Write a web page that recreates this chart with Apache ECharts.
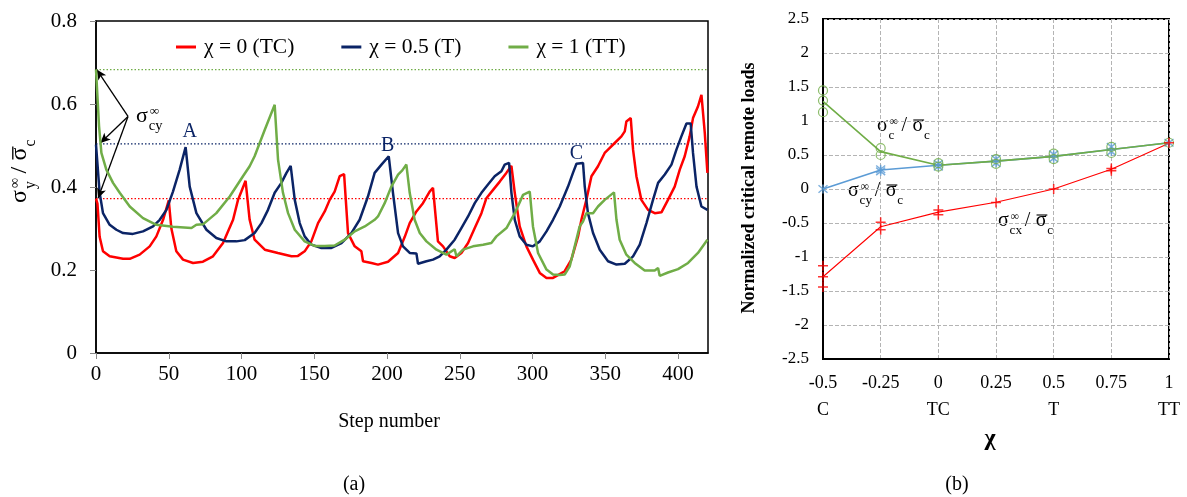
<!DOCTYPE html>
<html>
<head>
<meta charset="utf-8">
<script src="https://cdn.jsdelivr.net/npm/echarts@6/dist/echarts.min.js"></script>
<style>html,body{margin:0;padding:0;background:#fff;}#c{width:1187px;height:497px;}</style>
</head>
<body>
<div id="c"></div>
<script>
// ---------- (a) data: step number vs sigma_y / sigma_c ----------
const redSteps = [0,1,2.5,4.8,9.4,18.6,23.2,30,36.9,41.5,46.1,50,51.8,55.2,59.8,66.7,73.5,80.4,87.3,94.2,97.6,99.9,102.8,105.6,109,116,125,134.3,138.8,143.4,148,152.6,157.2,160.6,164,167.5,170.5,173.2,177.8,182.4,183.5,189.3,193.8,200.7,207.6,212.2,215.6,220.2,224.7,229.3,231.6,235,238.5,243.1,246.5,251.1,255.7,260.3,264.9,268.3,272.9,277.5,282,285.5,287.8,291.2,295.8,300.3,305,309.6,314.1,318.7,322.1,326.7,331.3,333.6,337,340.5,345,349.6,351.9,356.5,361.1,363.4,364.5,367.5,369.1,371.4,374.8,379.4,384,388.6,393.1,397.7,401.2,404.6,408,410.3,413.7,416.1,418.4,420.2];
const redVals = [0.372,0.36,0.28,0.245,0.233,0.227,0.227,0.237,0.257,0.281,0.321,0.368,0.30,0.245,0.225,0.217,0.22,0.233,0.265,0.321,0.369,0.389,0.415,0.321,0.273,0.249,0.241,0.233,0.234,0.245,0.269,0.313,0.341,0.369,0.389,0.426,0.431,0.289,0.257,0.245,0.221,0.217,0.213,0.22,0.241,0.28,0.313,0.341,0.361,0.389,0.398,0.269,0.257,0.233,0.229,0.241,0.265,0.301,0.337,0.373,0.393,0.413,0.434,0.451,0.386,0.305,0.257,0.225,0.193,0.181,0.181,0.19,0.197,0.225,0.281,0.321,0.369,0.426,0.45,0.482,0.49,0.506,0.522,0.534,0.558,0.566,0.49,0.426,0.369,0.345,0.337,0.339,0.369,0.401,0.442,0.474,0.522,0.566,0.594,0.622,0.53,0.434];

const blueSteps = [0,0.7,2.5,4.8,9.4,14,18.6,25.4,32.3,39.2,43.8,48.4,52.9,57.5,61.6,64.4,69,75.9,82.7,89.6,96.5,102.2,109,113.7,118.2,122.8,127.4,130.9,133.8,136.6,140,143.4,148,154.9,161.8,168.7,175.5,181.2,186.9,191.5,196.2,201.2,204.1,207.6,211,215.6,220.2,221.3,227.1,231.6,236.2,240.8,246.5,251.1,255.7,260.3,264.9,269.4,274,278.6,280.9,283.9,285.5,287.8,291.2,295.8,300.3,305,309.6,314.1,318.7,324.4,327.8,330.2,334.7,335.9,338.1,341.6,346.2,351.9,357.7,363.4,369.1,373.7,378.3,382.8,386.3,390.9,395.5,398.9,402.3,405.8,408.7,410.3,412.7,416.1,420.2];
const blueVals = [0.502,0.502,0.386,0.337,0.309,0.297,0.289,0.287,0.293,0.305,0.321,0.345,0.389,0.442,0.496,0.401,0.337,0.297,0.277,0.269,0.269,0.272,0.289,0.313,0.345,0.386,0.41,0.434,0.451,0.369,0.313,0.281,0.261,0.253,0.253,0.265,0.289,0.321,0.377,0.434,0.454,0.474,0.386,0.289,0.257,0.241,0.24,0.215,0.221,0.225,0.233,0.249,0.273,0.301,0.329,0.361,0.386,0.406,0.426,0.438,0.454,0.458,0.386,0.321,0.281,0.261,0.257,0.269,0.293,0.321,0.353,0.401,0.434,0.456,0.458,0.401,0.337,0.289,0.249,0.221,0.213,0.215,0.233,0.261,0.313,0.369,0.41,0.43,0.454,0.49,0.522,0.553,0.553,0.482,0.401,0.353,0.345];

const greenSteps = [0,0.7,2.1,3.7,7.1,11.7,16.3,23.2,32.3,41.5,52.9,65.6,69,73.5,82.7,91.9,101,105.6,109,116,122.8,125.1,128.5,132,136.6,143.4,150.3,157.2,164,170.9,177.8,184.7,191.5,193.8,198.4,203,207.6,210.5,213.3,215.6,219,222.5,227.1,234,240.8,246.5,247.7,252.2,259.1,266,271.7,275.2,282.1,287.8,293.5,298.1,300.3,303.8,309.6,314.1,318.7,322.1,325.6,329,332.4,334.7,337,341.6,345,349.6,356,357.7,359.9,364.5,370.2,377.1,384,386.3,387.4,393.1,400,406.9,413.7,420.2];
const greenVals = [0.683,0.683,0.546,0.482,0.442,0.41,0.386,0.353,0.325,0.309,0.304,0.301,0.309,0.31,0.337,0.377,0.426,0.45,0.474,0.538,0.598,0.466,0.386,0.337,0.297,0.269,0.258,0.258,0.259,0.273,0.293,0.305,0.321,0.329,0.361,0.401,0.43,0.44,0.454,0.386,0.321,0.289,0.269,0.249,0.237,0.25,0.233,0.249,0.257,0.261,0.265,0.281,0.301,0.337,0.381,0.389,0.305,0.241,0.201,0.189,0.188,0.189,0.209,0.257,0.305,0.317,0.337,0.337,0.353,0.369,0.387,0.321,0.273,0.237,0.217,0.199,0.199,0.205,0.186,0.194,0.202,0.217,0.241,0.273];

const seriesNames = ['χ = 0 (TC)', 'χ = 0.5 (T)', 'χ = 1 (TT)'];
const criticalLevels = [0.372, 0.504, 0.683];   // red, blue, green dotted lines
const stepRange = [0, 420.6];
const stepTicks = [0,50,100,150,200,250,300,350,400];
const peakLabels = ['A','B','C'];
const peakSteps = [64.4, 200.5, 330.1];
const peakVals = [0.533, 0.5, 0.48];
const arrowFrom = [22, 0.57];
const arrowTo = [[0.5, 0.683],[3, 0.506],[1.4, 0.373]];

// ---------- (b) data: chi vs normalized critical remote loads ----------
const chiValues = [-0.5,-0.25,0,0.25,0.5,0.75,1];
const chiNames = ['C','','TC','','T','','TT'];
const ratioC  = [1.29,0.55,0.35,0.41,0.48,0.58,0.68];
const ratioCy = [0,0.28,0.35,0.41,0.48,0.58,0.68];
const ratioCx = [-1.29,-0.555,-0.34,-0.196,0,0.29,0.673];
const marksC  = [[-0.5,1.45],[-0.5,1.3],[-0.5,1.13],[-0.25,0.6],[-0.25,0.5],[0,0.33],[0,0.38],[0.25,0.37],[0.25,0.44],[0.5,0.44],[0.5,0.52],[0.75,0.53],[0.75,0.62],[1,0.68]];
const marksCy = [[-0.5,0],[-0.25,0.26],[-0.25,0.29],[0,0.33],[0,0.37],[0.25,0.38],[0.25,0.44],[0.5,0.45],[0.5,0.51],[0.75,0.55],[0.75,0.62],[1,0.68]];
const marksCx = [[-0.5,-1.13],[-0.5,-1.29],[-0.5,-1.44],[-0.25,-0.49],[-0.25,-0.6],[0,-0.31],[0,-0.38],[0.25,-0.2],[0.5,0],[0.75,0.27],[0.75,0.3],[1,0.68]];

// ---------- build ----------
const FONT = 'Liberation Serif';
const RED = '#FF0000', NAVY = '#0B2466', GREEN = '#70AD47', LBLUE = '#5B9BD5';
const zip = (a, b) => a.map((v, i) => [v, b[i]]);

function ratioLabel(x, y, F, sub, rot, withDen) {
  const w = 0.58 * F, sf = 0.66 * F;
  const subW = sub.length * 0.46 * sf, infW = 0.75 * sf;
  const afterSub = w + Math.max(subW, infW) + 0.15 * F;
  const s2 = afterSub + 0.3 * F + 0.25 * F;
  const st = (t, s) => ({text: t, fontFamily: FONT, fontSize: s, fill: '#000', verticalAlign: 'bottom'});
  const ch = [
    {type: 'text', x: 0, y: 0, style: st('σ', F)},
    {type: 'text', x: w, y: 0.3 * F, style: st(sub, sf)},
    {type: 'text', x: w + 0.04 * F, y: -0.42 * F, style: st('∞', 0.6 * F)}
  ];
  if (withDen) {
    ch.push({type: 'text', x: afterSub, y: 0, style: st('/', F)});
    ch.push({type: 'text', x: s2, y: 0, style: st('σ', F)});
    ch.push({type: 'line', shape: {x1: s2 + 0.04 * F, y1: -0.8 * F, x2: s2 + w, y2: -0.8 * F}, style: {stroke: '#000', lineWidth: Math.max(1, F / 18)}});
    ch.push({type: 'text', x: s2 + w, y: 0.3 * F, style: st('c', sf)});
  }
  return {type: 'group', x: x, y: y, rotation: rot || 0, silent: true, children: ch};
}

const chart = echarts.init(document.getElementById('c'), null, {renderer: 'canvas'});

const levelColors = [RED, NAVY, GREEN];
const levelSeries = criticalLevels.map((v, i) => ({
  type: 'line', xAxisIndex: 0, yAxisIndex: 0, silent: true, symbol: 'none', z: 1,
  data: stepRange.map(s => [s, v]),
  lineStyle: {color: levelColors[i], type: [1.5, 2], width: 1.2}
}));

const option = {
  animation: false,
  backgroundColor: '#fff',
  textStyle: {fontFamily: FONT},
  grid: [
    {left: 96, top: 21, width: 612, height: 332, show: true, borderColor: '#000', borderWidth: 1.5},
    {left: 823, top: 19, width: 346, height: 340, show: true, borderColor: '#000', borderWidth: 2}
  ],
  legend: {
    data: seriesNames, left: 176, top: 36, padding: 0, icon: 'rect', itemWidth: 20, itemHeight: 3, itemGap: 47,
    textStyle: {fontFamily: FONT, fontSize: 21.5, color: '#000', padding: [0, 0, 0, 3]}
  },
  xAxis: [
    {type: 'value', gridIndex: 0, min: stepRange[0], max: stepRange[1],
     axisLine: {onZero: false, lineStyle: {color: '#000', width: 1.5}},
     axisTick: {show: true, length: 6, customValues: stepTicks, lineStyle: {color: '#888'}},
     axisLabel: {customValues: stepTicks, fontFamily: FONT, fontSize: 21, color: '#000', margin: 11},
     splitLine: {show: false}},
    {type: 'value', gridIndex: 1, min: -0.5, max: 1, interval: 0.25,
     axisLine: {onZero: false, lineStyle: {color: '#000', width: 2}},
     axisTick: {show: false},
     axisLabel: {fontFamily: FONT, fontSize: 18, color: '#000', margin: 11, lineHeight: 27,
       showMinLabel: true, showMaxLabel: true,
       formatter: v => { const i = chiValues.findIndex(c => Math.abs(c - v) < 1e-9); return v + '\n' + (i >= 0 && chiNames[i] ? chiNames[i] : ' '); }},
     splitLine: {show: true, lineStyle: {color: '#b4b4b4', type: 'dashed', width: 1}}}
  ],
  yAxis: [
    {type: 'value', gridIndex: 0, min: 0, max: 0.8, interval: 0.2,
     axisLine: {show: true, onZero: false, lineStyle: {color: '#000', width: 1.5}},
     axisTick: {show: true, length: 6, lineStyle: {color: '#888'}},
     axisLabel: {fontFamily: FONT, fontSize: 21, color: '#000', margin: 19},
     splitLine: {show: false}},
    {type: 'value', gridIndex: 1, min: -2.5, max: 2.5, interval: 0.5,
     axisLine: {show: true, onZero: false, lineStyle: {color: '#000', width: 2}},
     axisTick: {show: false},
     axisLabel: {fontFamily: FONT, fontSize: 17, color: '#000', margin: 14},
     splitLine: {show: true, lineStyle: {color: '#b4b4b4', type: 'dashed', width: 1}}}
  ],
  series: levelSeries.concat([
    {name: seriesNames[0], type: 'line', xAxisIndex: 0, yAxisIndex: 0, data: zip(redSteps, redVals),
     showSymbol: false, symbol: 'none', color: RED, lineStyle: {width: 2.5, color: RED}, z: 3},
    {name: seriesNames[1], type: 'line', xAxisIndex: 0, yAxisIndex: 0, data: zip(blueSteps, blueVals),
     showSymbol: false, symbol: 'none', color: NAVY, lineStyle: {width: 2.5, color: NAVY}, z: 4,
     markPoint: {symbol: 'circle', symbolSize: 0, silent: true,
       label: {show: true, position: 'inside', formatter: '{b}', fontFamily: FONT, fontSize: 20, color: NAVY},
       data: peakLabels.map((n, i) => ({name: n, coord: [peakSteps[i], peakVals[i]]}))}},
    {name: seriesNames[2], type: 'line', xAxisIndex: 0, yAxisIndex: 0, data: zip(greenSteps, greenVals),
     showSymbol: false, symbol: 'none', color: GREEN, lineStyle: {width: 2.5, color: GREEN}, z: 5},
    {name: 'arrows', type: 'line', xAxisIndex: 0, yAxisIndex: 0, data: [], z: 6,
     markLine: {silent: true, symbol: ['none', 'arrow'], symbolSize: [7, 10], label: {show: false},
       lineStyle: {color: '#000', type: 'solid', width: 1.3, opacity: 1},
       emphasis: {disabled: true},
       data: arrowTo.map(p => [{coord: arrowFrom}, {coord: p}])}},
    // (b)
    {type: 'line', xAxisIndex: 1, yAxisIndex: 1, data: zip(chiValues, ratioC), symbol: 'none',
     lineStyle: {color: GREEN, width: 1.6}, z: 3},
    {type: 'line', xAxisIndex: 1, yAxisIndex: 1, data: zip(chiValues, ratioCy), symbol: 'none',
     lineStyle: {color: LBLUE, width: 1.6}, z: 2},
    {type: 'line', xAxisIndex: 1, yAxisIndex: 1, data: zip(chiValues, ratioCx), symbol: 'none',
     lineStyle: {color: RED, width: 1.1}, z: 4},
    {type: 'scatter', xAxisIndex: 1, yAxisIndex: 1, data: marksCy, symbol: 'path://M0,0L10,10M10,0L0,10M5,-1L5,11',
     symbolSize: 9, itemStyle: {color: 'rgba(0,0,0,0)', borderColor: LBLUE, borderWidth: 1.5}, z: 5},
    {type: 'scatter', xAxisIndex: 1, yAxisIndex: 1, data: marksC, symbol: 'circle', symbolSize: 9,
     itemStyle: {color: 'rgba(0,0,0,0)', borderColor: GREEN, borderWidth: 1.2}, z: 6},
    {type: 'scatter', xAxisIndex: 1, yAxisIndex: 1, data: marksCx, symbol: 'path://M5,0L5,10M0,5L10,5',
     symbolSize: 10, itemStyle: {color: 'rgba(0,0,0,0)', borderColor: RED, borderWidth: 1.5}, z: 7}
  ]),
  graphic: [
    ratioLabel(32, 203, 24, 'y', Math.PI / 2, true),
    ratioLabel(136, 127, 22, 'cy', 0, false),
    ratioLabel(877, 136, 20, 'c', 0, true),
    ratioLabel(848, 201, 20, 'cy', 0, true),
    ratioLabel(998, 231, 20, 'cx', 0, true),
    {type: 'text', x: 389, y: 422, silent: true, style: {text: 'Step number', fontFamily: FONT, fontSize: 20, fill: '#000', align: 'center', verticalAlign: 'middle'}},
    {type: 'text', x: 749, y: 188, rotation: Math.PI / 2, silent: true, style: {text: 'Normalized critical remote loads', fontFamily: FONT, fontWeight: 'bold', fontSize: 18, fill: '#000', align: 'center', verticalAlign: 'middle'}},
    {type: 'text', x: 990, y: 439, silent: true, style: {text: 'χ', fontFamily: FONT, fontWeight: 'bold', fontSize: 24, fill: '#000', align: 'center', verticalAlign: 'middle'}},
    {type: 'text', x: 354, y: 485, silent: true, style: {text: '(a)', fontFamily: FONT, fontSize: 20, fill: '#000', align: 'center', verticalAlign: 'middle'}},
    {type: 'text', x: 957, y: 485, silent: true, style: {text: '(b)', fontFamily: FONT, fontSize: 20, fill: '#000', align: 'center', verticalAlign: 'middle'}}
  ]
};
chart.setOption(option);
</script>
</body>
</html>
